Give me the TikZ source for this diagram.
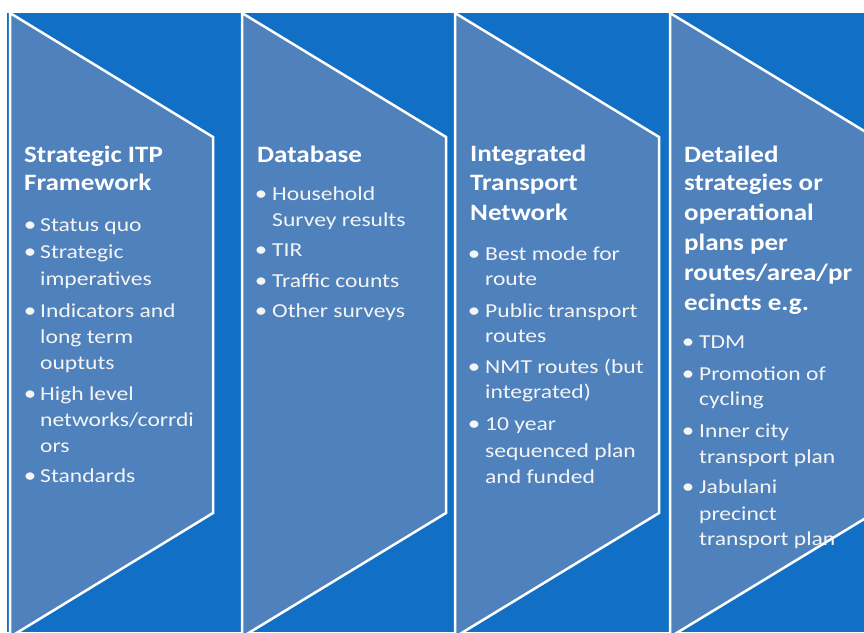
\documentclass[tikz,border=0pt]{standalone}
\usepackage{fontspec}
\setmainfont{Carlito}[FakeStretch=1.15]
\newfontfamily\itemfont{Carlito}[FakeStretch=1.19]
\definecolor{bgblue}{RGB}{17,112,198}
\definecolor{panelblue}{RGB}{79,129,189}
\definecolor{txtwhite}{RGB}{245,245,245}
\tikzset{
  panel/.style={fill=panelblue, draw=white, line width=2.5pt, line join=miter},
  ttl/.style={anchor=base west, inner sep=0pt, text=white, font=\fontsize{23.5}{28}\selectfont\bfseries},
  itm/.style={anchor=base west, inner sep=0pt, text=txtwhite, font=\itemfont\fontsize{19.8}{24}\selectfont},
  bdot/.style={anchor=base, inner sep=0pt, text=txtwhite, font=\itemfont\fontsize{21}{24}\selectfont},
}
\newcommand\mkTitle[4]{\node[ttl] (#1) at (#2,#3) {#4};}
\newcommand\mkItem[4]{\node[itm] (#1) at (#2,#3) {#4};}
\newcommand\mkDot[3]{\node[bdot] (#1) at (#2,#3) {•};}
\begin{document}
\begin{tikzpicture}[x=1pt,y=-1pt]
\useasboundingbox (0,0) rectangle (864,632);
\fill[white] (0,0) rectangle (864,632);
\fill[bgblue] (7,13) rectangle (864,632);
\begin{scope}
\clip (7,13) rectangle (864,632);
\foreach \xl/\xr in {10/213, 242/446, 455/659, 670/874}{
  \draw[panel] (\xl,13) -- (\xr,137) -- (\xr,513) -- (\xl,637) -- cycle;
}
\end{scope}
% column 1
\mkTitle{t1a}{24}{162}{Strategic ITP}
\mkTitle{t1b}{24}{190}{Framework}
\mkDot{d1a}{30}{231}\mkItem{i1a}{40}{231}{Status quo}
\mkDot{d1b}{30}{258}\mkItem{i1b}{40}{258}{Strategic}
\mkItem{i1c}{40}{285}{imperatives}
\mkDot{d1d}{30}{317}\mkItem{i1d}{40}{317}{Indicators and}
\mkItem{i1e}{40}{343}{long term}
\mkItem{i1f}{40}{369}{ouptuts}
\mkDot{d1g}{30}{400}\mkItem{i1g}{40}{400}{High level}
\mkItem{i1h}{40}{426}{networks/corrdi}
\mkItem{i1i}{40}{452}{ors}
\mkDot{d1j}{30}{482}\mkItem{i1j}{40}{482}{Standards}
% column 2
\mkTitle{t2a}{257}{162}{Database}
\mkDot{d2a}{261}{200}\mkItem{i2a}{272}{200}{Household}
\mkItem{i2b}{272}{226}{Survey results}
\mkDot{d2c}{261}{256}\mkItem{i2c}{272}{256}{TIR}
\mkDot{d2d}{261}{287}\mkItem{i2d}{272}{287}{Traffic counts}
\mkDot{d2e}{261}{317}\mkItem{i2e}{272}{317}{Other surveys}
% column 3
\mkTitle{t3a}{470}{161}{Integrated}
\mkTitle{t3b}{470}{190}{Transport}
\mkTitle{t3c}{470}{220}{Network}
\mkDot{d3a}{474}{260}\mkItem{i3a}{485}{260}{Best mode for}
\mkItem{i3b}{485}{285}{route}
\mkDot{d3c}{474}{317}\mkItem{i3c}{485}{317}{Public transport}
\mkItem{i3d}{485}{342}{routes}
\mkDot{d3e}{474}{373}\mkItem{i3e}{485}{373}{NMT routes (but}
\mkItem{i3f}{485}{398}{integrated)}
\mkDot{d3g}{474}{430}\mkItem{i3g}{485}{430}{10 year}
\mkItem{i3h}{485}{457}{sequenced plan}
\mkItem{i3i}{485}{483}{and funded}
% column 4
\mkTitle{t4a}{684}{162}{Detailed}
\mkTitle{t4b}{684}{190}{strategies or}
\mkTitle{t4c}{684}{220}{operational}
\mkTitle{t4d}{684}{250}{plans per}
\mkTitle{t4e}{684}{280}{routes/area/pr}
\mkTitle{t4f}{684}{310}{ecincts e.g.}
\mkDot{d4a}{688}{348}\mkItem{i4a}{699}{348}{TDM}
\mkDot{d4b}{688}{380}\mkItem{i4b}{699}{380}{Promotion of}
\mkItem{i4c}{699}{405}{cycling}
\mkDot{d4d}{688}{437}\mkItem{i4d}{699}{437}{Inner city}
\mkItem{i4e}{699}{463}{transport plan}
\mkDot{d4f}{688}{493}\mkItem{i4f}{699}{493}{Jabulani}
\mkItem{i4g}{699}{520}{precinct}
\mkItem{i4h}{699}{545}{transport plan}
\end{tikzpicture}
\end{document}
